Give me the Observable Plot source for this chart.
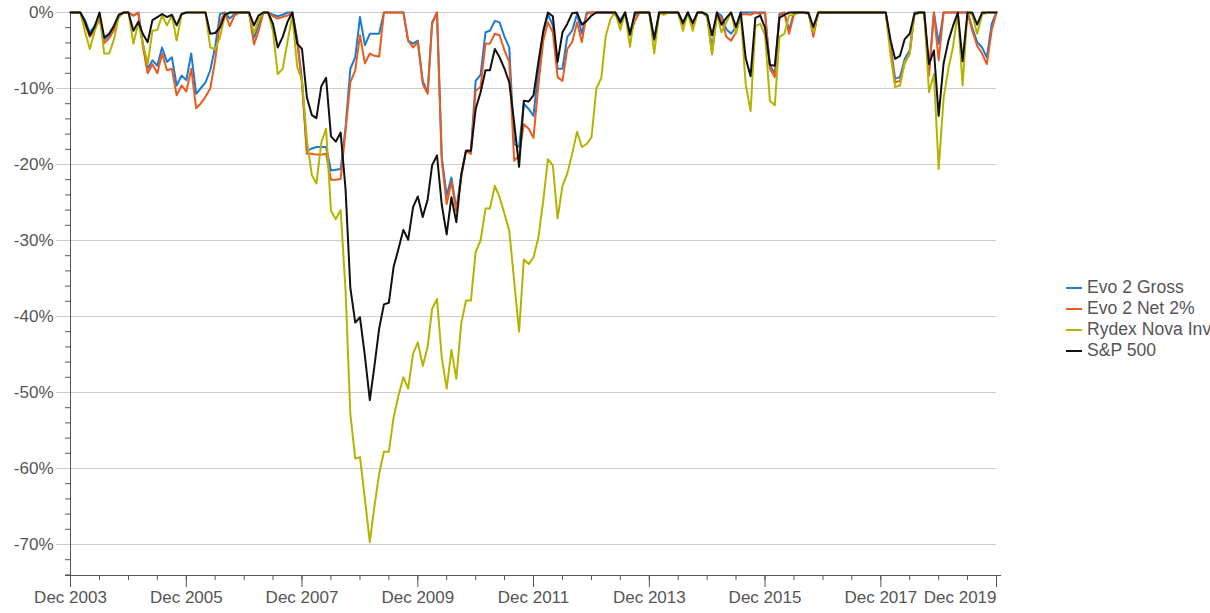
<!DOCTYPE html>
<html><head><meta charset="utf-8">
<script src="https://cdn.jsdelivr.net/npm/d3@7"></script>
<script src="https://cdn.jsdelivr.net/npm/@observablehq/plot@0.6"></script>
<style>
html,body{margin:0;padding:0;background:#fff;overflow:hidden;}
#wrap{position:relative;width:1210px;height:613px;overflow:hidden;font-family:"Liberation Sans",Arial,sans-serif;}
#legend{position:absolute;left:1066px;top:277px;font-size:17.6px;color:#555;white-space:nowrap;}
.item{height:21px;line-height:21px;display:flex;align-items:center;}
.sw{width:16px;height:2px;margin-right:5px;flex:none;}
</style></head><body><div id="wrap"><div id="chart"></div><div id="legend"></div></div>
<script>
// Monthly drawdowns (%), Dec 2003 .. Dec 2019 (193 months)
const gross = [
0,
0,0,-1.0,-2.6,-1.8,-0.5,-3.6,-3.0,-1.9,-0.4,0,0,
-0.4,0,-4.0,-7.4,-6.3,-7.0,-4.6,-6.5,-5.9,-9.6,-8.3,-8.9,
-5.4,-10.7,-10.0,-9.2,-7.6,-4.5,-0.2,0,-0.8,-0.2,0,0,
0,-3.3,-1.8,0,0,-0.3,-0.5,-0.3,0,0,-3.5,-9.0,
-18.2,-17.9,-17.7,-17.7,-17.7,-20.8,-20.7,-20.6,-15.1,-7.4,-5.9,-0.6,
-4.3,-2.8,-2.8,-2.8,0,0,0,0,0,-3.7,-4.1,-3.7,
-9.0,-10.5,-1.3,0,-19.0,-24.1,-21.7,-25.9,-21.4,-18.2,-18.2,-9.0,
-8.2,-2.6,-2.4,-1.1,-1.3,-3.2,-4.6,-17.3,-17.7,-12.0,-12.7,-13.6,
-7.5,-2.6,-0.2,-1.7,-7.4,-7.4,-3.2,-2.4,-0.2,-2.8,0,0,
0,0,0,0,0,-1.0,0,-2.8,-0.4,0,0,0,
-3.5,0,0,0,0,0,-1.3,0,-1.5,0,0,-0.3,
-4.8,0,-0.4,-2.2,-2.8,-1.9,0,0,0,0,0,0,
-7.0,-8.0,-0.2,0,-2.3,0,0,0,0,-2.8,0,0,
0,0,0,0,0,0,0,0,0,0,0,0,
0,-4.5,-8.7,-8.5,-6.1,-5.0,0,0,0,-7.9,0,-4.1,
0,0,0,0,0,0,-2.0,-3.9,-4.6,-5.9,-1.5,0
];
const net = [
0,
0,0,-1.5,-3.2,-2.3,-0.8,-4.0,-3.4,-2.3,-0.6,0,0,
-0.4,0,-4.4,-8.0,-6.8,-8.0,-5.4,-7.6,-7.4,-10.9,-9.6,-10.4,
-7.4,-12.6,-12.0,-11.1,-10.0,-6.3,-1.3,0,-1.8,-0.4,0,0,
0,-4.2,-2.5,0,0,-0.5,-0.8,-0.6,-0.4,0,-3.8,-9.4,
-18.6,-18.6,-18.7,-18.7,-18.6,-22.0,-22.0,-21.9,-15.5,-9.2,-7.6,-3.0,
-6.7,-5.4,-5.7,-5.8,0,0,0,0,0,-3.7,-4.6,-3.9,
-9.4,-10.7,-1.5,0,-19.5,-25.2,-22.3,-26.1,-21.7,-18.2,-18.6,-10.3,
-9.8,-4.1,-4.1,-2.8,-3.0,-5.0,-6.5,-19.5,-18.8,-14.7,-15.3,-16.5,
-9.5,-3.7,-1.3,-2.6,-8.5,-9.0,-4.8,-3.9,-1.3,-3.9,-0.2,0,
0,0,0,0,-0.3,-1.5,0,-3.0,-1.1,0,0,0,
-3.7,-0.2,0,0,0,0,-1.7,0,-2.1,0,0,-0.5,
-5.5,0,-0.8,-3.2,-3.7,-2.6,-0.3,-0.2,-0.3,0,-0.2,0,
-7.4,-8.5,-0.4,0,-2.8,-0.2,0,0,0,-3.2,0,0,
0,0,0,0,0,0,0,0,0,0,0,0,
0,-4.8,-9.2,-9.0,-6.6,-5.5,-0.2,0,0,-8.3,0,-6.3,
0,0,0,0,0,0,-2.4,-4.4,-5.4,-6.8,-2.3,0
];
const rydex = [
0,
0,0,-2.5,-4.8,-2.5,-0.2,-5.4,-5.4,-3.5,-0.5,0,0,
-4.1,-1.3,-4.0,-6.8,-2.4,-2.3,-0.4,-1.7,-0.4,-3.7,-0.2,0,
0,0,0,0,-4.6,-4.8,-3.3,-0.4,0,0,0,0,
0,-2.8,-1.0,0,0,-2.5,-8.1,-7.4,-3.8,-0.4,-7.2,-8.9,
-16.8,-21.4,-22.5,-17.1,-15.3,-26.1,-27.2,-26.0,-36.6,-52.8,-58.7,-58.5,
-64.0,-69.7,-65.1,-60.7,-57.8,-57.8,-53.3,-50.4,-48.0,-49.5,-44.9,-43.4,
-46.5,-44.0,-39.0,-37.7,-45.4,-49.5,-44.4,-48.2,-40.9,-37.9,-37.9,-31.5,
-30.0,-25.8,-25.8,-22.8,-24.3,-26.5,-28.7,-35.3,-42.0,-32.5,-33.1,-32.2,
-29.6,-24.7,-19.3,-20.1,-27.1,-22.8,-21.2,-18.6,-15.7,-17.7,-17.3,-16.4,
-10.0,-8.6,-3.1,-0.8,0,-2.3,0,-4.5,0,0,0,0,
-5.4,0,-0.3,0,0,0,-2.4,0,-2.4,0,0,-0.6,
-5.4,-0.2,-2.6,-1.3,0,-2.8,-0.3,-9.4,-13.0,-1.8,-1.5,-3.0,
-11.6,-12.2,-3.2,-2.8,-0.4,-0.3,0,0,-0.2,-2.6,0,0,
0,0,0,0,0,0,0,0,0,0,0,0,
0,-5.7,-9.8,-9.6,-6.5,-5.4,-0.3,0,0,-10.5,-8.1,-20.6,
-11.3,-7.3,-4.6,0,-9.6,0,-0.3,-2.8,-0.3,0,0,0
];
const sp500 = [
0,
0,0,-1.2,-3.0,-1.9,0,-3.3,-2.8,-1.7,-0.3,0,0,
-2.4,-1.2,-2.8,-3.9,-1.0,-0.6,-0.2,-0.6,-0.3,-1.7,-0.2,0,
0,0,0,0,-2.8,-2.7,-2.0,-0.3,0,0,0,0,
0,-1.7,-0.4,0,0,-1.5,-4.6,-3.2,-1.2,0,-4.1,-4.8,
-11.2,-13.5,-13.9,-9.7,-8.6,-16.3,-17.0,-15.8,-23.3,-36.2,-40.8,-40.1,
-45.2,-51.0,-46.7,-41.6,-38.4,-38.2,-33.5,-31.1,-28.6,-29.9,-25.6,-24.2,
-26.9,-24.6,-20.1,-18.8,-25.3,-29.2,-24.3,-27.6,-21.3,-18.2,-18.2,-12.7,
-10.5,-7.6,-7.6,-4.8,-5.9,-7.4,-9.2,-14.5,-20.3,-11.6,-11.7,-10.9,
-6.5,-2.4,0,-0.5,-6.5,-2.6,-1.5,-0.1,0,-1.6,-1.1,-0.4,
0,0,0,0,0,-1.3,0,-2.9,0,0,0,0,
-3.5,0,0,0,0,0,-1.4,0,-1.4,0,0,-0.3,
-3.0,0,-1.6,-0.7,0,-1.9,0,-6.0,-8.4,-0.7,-0.4,-2.0,
-6.9,-7.0,-0.7,-0.3,0,0,0,0,-0.1,-1.9,0,0,
0,0,0,0,0,0,0,0,0,0,0,0,
0,-3.7,-6.1,-5.7,-3.5,-2.8,-0.2,0,0,-6.8,-5.0,-13.6,
-6.7,-3.7,-1.8,0,-6.4,0,0,-1.6,0,0,0,0
];
const seriesNames = ["Evo 2 Gross", "Evo 2 Net 2%", "Rydex Nova Inv", "S&P 500"];
const seriesColors = ["#1a7bd1", "#ec5b1e", "#b4b400", "#111111"];
const seriesValues = [gross, net, rydex, sp500];
const xTickYears = [2003, 2005, 2007, 2009, 2011, 2013, 2015, 2017, 2019];
const yTickValues = [0, -10, -20, -30, -40, -50, -60, -70];
const yMin = -74.08;

const months = d3.utcMonth.range(new Date(Date.UTC(2003, 11, 1)), new Date(Date.UTC(2020, 0, 1)));
const rows = seriesNames.flatMap((name, k) => months.map((date, i) => ({name, date, value: seriesValues[k][i]})));
const xMajor = xTickYears.map(y => new Date(Date.UTC(y, 11, 1)));
const xMinor = months.filter(d => d.getUTCMonth() % 6 === 5);
const yMinor = d3.range(0, yMin, -2);
const fmt = d3.utcFormat("%b %Y");
const font = '"Liberation Sans", Arial, sans-serif';

const chart = Plot.plot({
  width: 1210, height: 613,
  marginLeft: 70, marginRight: 214, marginTop: 12, marginBottom: 38,
  x: {type: "utc", domain: [months[0], months[months.length - 1]], label: null},
  y: {domain: [yMin, 0], label: null},
  color: {domain: seriesNames, range: seriesColors},
  style: {fontFamily: font, fontSize: "17px", color: "#555", background: "#fff"},
  marks: [
    Plot.gridY(yTickValues, {stroke: "#cccccc", strokeOpacity: 1}),
    Plot.axisY({ticks: yMinor, tickSize: 5, tickFormat: () => "", stroke: "#555", label: null}),
    Plot.axisY({ticks: yTickValues, tickSize: 14, tickPadding: 3, tickFormat: d => d + "%", stroke: "#cccccc", strokeOpacity: 1, fill: "#555", fontSize: 17, label: null}),
    Plot.axisX({ticks: xMinor, tickSize: 5, tickFormat: () => "", stroke: "#555", label: null}),
    Plot.axisX({ticks: xMajor.slice(0, -1), tickSize: 12, tickPadding: 3, tickFormat: fmt, stroke: "#555", fill: "#555", fontSize: 17, label: null}),
    Plot.axisX({ticks: xMajor.slice(-1), tickSize: 12, tickPadding: 3, tickFormat: fmt, textAnchor: "end", stroke: "#555", fill: "#555", fontSize: 17, label: null}),
    Plot.ruleX([months[0]], {stroke: "#555"}),
    Plot.ruleY([yMin], {stroke: "#555", insetLeft: -5, insetRight: -5}),
    Plot.line(rows, {x: "date", y: "value", z: "name", stroke: "name", strokeWidth: 2})
  ]
});
document.getElementById("chart").appendChild(chart);

const legend = document.getElementById("legend");
seriesNames.forEach((name, k) => {
  const item = document.createElement("div");
  item.className = "item";
  const sw = document.createElement("span");
  sw.className = "sw";
  sw.style.background = seriesColors[k];
  const label = document.createElement("span");
  label.textContent = name;
  item.appendChild(sw);
  item.appendChild(label);
  legend.appendChild(item);
});
</script></body></html>
